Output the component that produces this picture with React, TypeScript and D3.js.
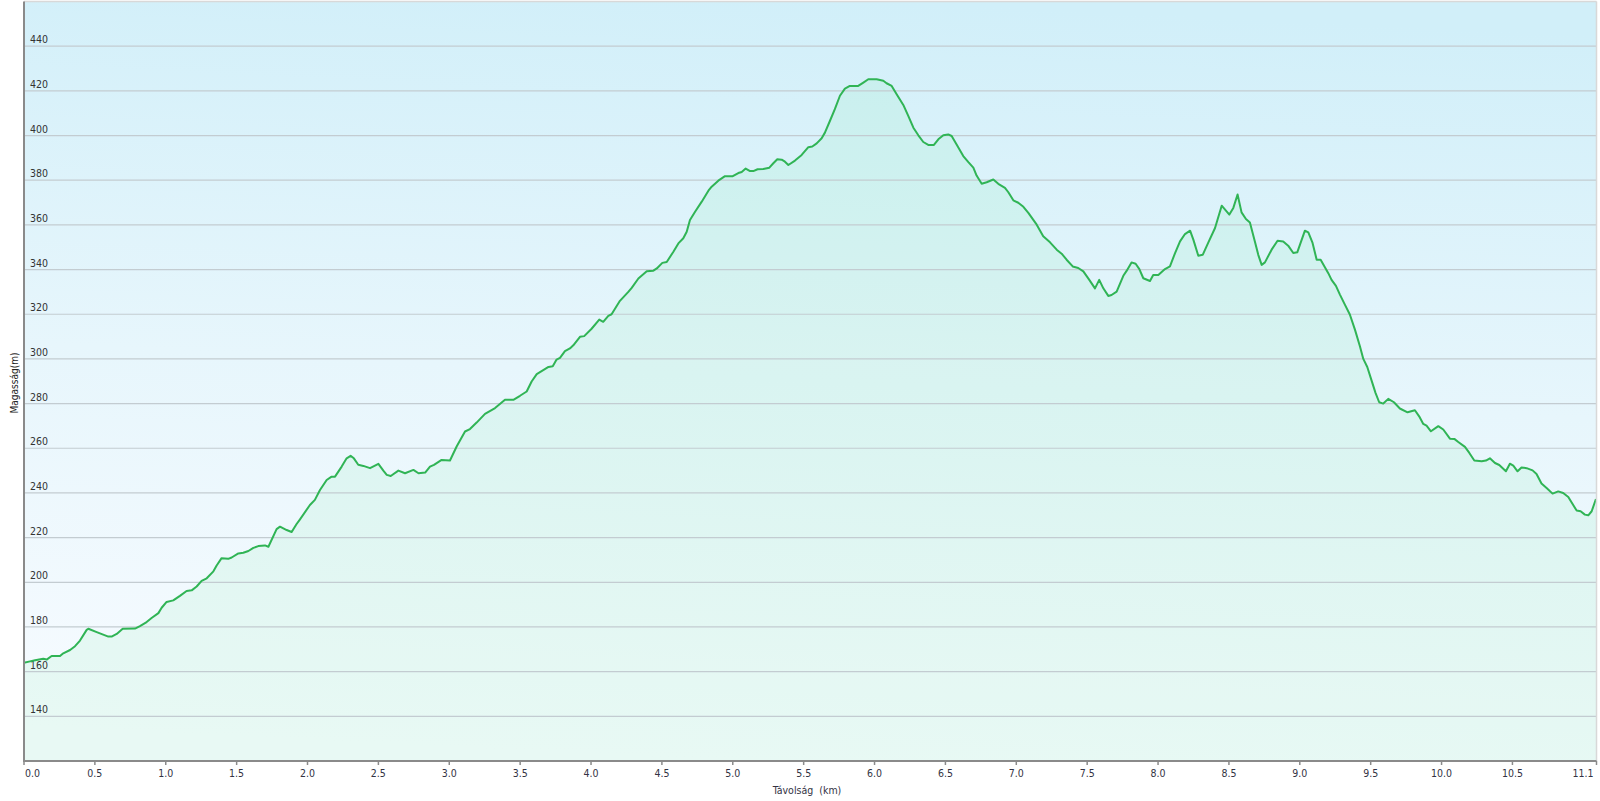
import React from "react";
import * as d3 from "d3";

const distances: number[] = [
  0, 0.042, 0.078, 0.136, 0.16, 0.195, 0.254, 0.277, 0.325, 0.36, 0.395, 0.442, 0.454, 0.513, 0.595, 0.618, 0.654, 0.696, 0.783, 0.818,
  0.865, 0.9, 0.948, 0.971, 1.006, 1.053, 1.1, 1.147, 1.183, 1.218, 1.253, 1.289, 1.336, 1.359, 1.394, 1.441, 1.465, 1.512, 1.547, 1.583,
  1.618, 1.653, 1.7, 1.724, 1.782, 1.806, 1.853, 1.888, 1.923, 1.947, 2.017, 2.052, 2.088, 2.135, 2.17, 2.194, 2.241, 2.276, 2.304, 2.327,
  2.358, 2.394, 2.441, 2.5, 2.535, 2.559, 2.587, 2.641, 2.688, 2.747, 2.783, 2.83, 2.864, 2.892, 2.946, 3.005, 3.052, 3.111, 3.146, 3.193,
  3.252, 3.323, 3.393, 3.452, 3.499, 3.546, 3.581, 3.617, 3.7, 3.73, 3.757, 3.781, 3.816, 3.851, 3.875, 3.922, 3.952, 4.004, 4.058, 4.086,
  4.122, 4.145, 4.204, 4.263, 4.287, 4.334, 4.393, 4.44, 4.464, 4.503, 4.534, 4.581, 4.616, 4.651, 4.675, 4.698, 4.734, 4.781, 4.828, 4.851,
  4.898, 4.945, 5.0, 5.039, 5.063, 5.091, 5.122, 5.145, 5.175, 5.215, 5.258, 5.286, 5.314, 5.345, 5.368, 5.392, 5.439, 5.486, 5.533, 5.561,
  5.592, 5.627, 5.65, 5.685, 5.72, 5.756, 5.791, 5.826, 5.885, 5.921, 5.956, 6.015, 6.062, 6.085, 6.121, 6.156, 6.203, 6.238, 6.274, 6.309,
  6.344, 6.379, 6.419, 6.45, 6.485, 6.52, 6.544, 6.579, 6.626, 6.662, 6.697, 6.72, 6.756, 6.791, 6.838, 6.873, 6.92, 6.944, 6.979, 7.014,
  7.05, 7.085, 7.144, 7.19, 7.238, 7.285, 7.32, 7.355, 7.398, 7.437, 7.473, 7.515, 7.555, 7.585, 7.614, 7.649, 7.672, 7.708, 7.755, 7.778,
  7.813, 7.842, 7.868, 7.896, 7.943, 7.966, 8.002, 8.049, 8.084, 8.12, 8.155, 8.19, 8.226, 8.249, 8.284, 8.315, 8.355, 8.402, 8.449, 8.503,
  8.531, 8.561, 8.589, 8.62, 8.648, 8.683, 8.707, 8.731, 8.754, 8.801, 8.843, 8.883, 8.918, 8.954, 8.982, 9.036, 9.06, 9.09, 9.119, 9.147,
  9.201, 9.224, 9.255, 9.283, 9.318, 9.353, 9.389, 9.424, 9.448, 9.476, 9.506, 9.534, 9.56, 9.589, 9.624, 9.664, 9.706, 9.76, 9.812, 9.842,
  9.871, 9.894, 9.925, 9.977, 10.012, 10.059, 10.09, 10.118, 10.165, 10.196, 10.231, 10.283, 10.313, 10.341, 10.377, 10.407, 10.454, 10.482, 10.506, 10.536,
  10.564, 10.6, 10.642, 10.67, 10.705, 10.741, 10.783, 10.823, 10.858, 10.894, 10.953, 10.981, 11.011, 11.035, 11.059, 11.089,
];

const elevations: number[] = [
  164, 164.6, 165.1, 165.8, 165.4, 167, 167, 168.2, 169.7, 171.4, 173.9, 178.7, 179.2, 177.7, 175.7, 175.7, 176.9, 179.2, 179.3, 180.4,
  182.2, 184, 186.2, 188.6, 191.2, 191.9, 193.9, 196.1, 196.4, 198.1, 200.6, 201.8, 204.9, 207.5, 210.8, 210.5, 211.1, 212.9, 213.2, 214,
  215.4, 216.2, 216.5, 215.9, 223.8, 224.9, 223.4, 222.5, 226.1, 228.2, 234.6, 236.9, 241.3, 245.8, 247.3, 247.3, 251.8, 255.5, 256.6, 255.5,
  252.6, 252.1, 251.1, 253, 250, 248.1, 247.6, 250, 248.8, 250.3, 248.8, 249.1, 251.8, 252.6, 254.8, 254.5, 260.8, 267.5, 268.6, 271.5,
  275.4, 278, 281.7, 281.7, 283.5, 285.4, 289.9, 293.2, 296.4, 296.7, 299.7, 300.5, 303.5, 304.7, 306.1, 309.9, 310.2, 313.5, 317.6, 316.6,
  319.3, 320, 326, 330, 331.8, 336, 339.2, 339.5, 340.5, 343, 343.4, 348, 351.7, 354, 356.9, 362.2, 365.9, 370.4, 375.3, 377.1,
  379.8, 381.8, 381.8, 383.2, 383.7, 385.2, 384.1, 384.1, 384.9, 385, 385.6, 387.6, 389.4, 389.2, 388.3, 386.8, 388.8, 391.3, 394.8, 395.1,
  396.5, 398.8, 401.3, 406.5, 411.8, 417.8, 421, 422.2, 422.2, 423.7, 425.2, 425.2, 424.5, 423.4, 422.2, 418.5, 413.7, 408.8, 403.5, 400.1,
  397.1, 395.8, 395.8, 398.3, 400.1, 400.5, 399.8, 396, 390.8, 388.1, 385.6, 382.1, 378.4, 379.1, 380.3, 378.4, 376.6, 374.6, 371, 369.9,
  368.1, 365.4, 360.1, 354.9, 352.2, 348.9, 347.1, 344.4, 341.4, 340.7, 339.2, 335.4, 331.6, 335.4, 331.6, 328.2, 328.6, 330.1, 337.2, 339.4,
  343.2, 342.6, 340.2, 336.1, 334.9, 337.6, 337.6, 340.2, 341.4, 347.4, 352.6, 355.9, 357.4, 353.4, 346.2, 346.6, 352.2, 358.6, 368.6, 364.6,
  367.6, 373.6, 365.6, 362.6, 361.1, 352.6, 346.6, 342.1, 343.2, 348.9, 352.9, 352.6, 350.7, 347.4, 347.7, 357.4, 356.6, 351.9, 344.4, 344.4,
  338.4, 335.4, 332.7, 328.8, 324.3, 319.9, 313.1, 305.7, 300, 296.4, 290.4, 284.8, 280.6, 280, 282.1, 280.6, 277.8, 276.1, 277, 274.3,
  270.9, 270.1, 267.6, 269.9, 268.4, 264.3, 264.2, 262.8, 260.6, 257.9, 254.5, 254.2, 254.5, 255.5, 253.4, 252.5, 249.7, 253.1, 252.2, 249.7,
  251.4, 251.1, 250.1, 248.5, 244.2, 242.2, 239.7, 240.7, 240, 238.2, 232.1, 231.8, 230.3, 230, 231.8, 237.3,
];

const yTicks: number[] = [140, 160, 180, 200, 220, 240, 260, 280, 300, 320, 340, 360, 380, 400, 420, 440];
const xTicks: number[] = [0, 0.5, 1, 1.5, 2, 2.5, 3, 3.5, 4, 4.5, 5, 5.5, 6, 6.5, 7, 7.5, 8, 8.5, 9, 9.5, 10, 10.5];
const xMax = 11.093;
const xMaxLabel = "11.1";
const yTitle = "Magasság(m)";
const xTitle = "Távolság  (km)";

const W = 1600;
const H = 801;
const L = 24;
const R = 1596.5;
const T = 1.5;
const B = 761;

const FONT = "'DejaVu Sans Condensed', 'DejaVu Sans', Verdana, sans-serif";

export default function App() {
  const x = d3.scaleLinear().domain([0, xMax]).range([L, R]);
  const y = d3.scaleLinear().domain([120, 460]).range([B, T]);
  const pts: [number, number][] = distances.map((d, i) => [d, elevations[i]]);
  const line = d3
    .line<[number, number]>()
    .x((d) => x(d[0]))
    .y((d) => y(d[1]))
    .curve(d3.curveLinear);
  const area = d3
    .area<[number, number]>()
    .x((d) => x(d[0]))
    .y0(B)
    .y1((d) => y(d[1]))
    .curve(d3.curveLinear);

  return (
    <svg
      width={W}
      height={H}
      style={{ position: "absolute", left: 0, top: 0, background: "#fff" }}
    >
      <defs>
        <linearGradient id="bg" x1="0.55" y1="0" x2="0.45" y2="1">
          <stop offset="0" stopColor="#d1eff9" />
          <stop offset="0.5" stopColor="#e7f6fc" />
          <stop offset="1" stopColor="#f7fbff" />
        </linearGradient>
      </defs>
      <rect x={L} y={T} width={R - L} height={B - T} fill="url(#bg)" />
      <path d={area(pts) || ""} fill="rgba(60,230,110,0.08)" />
      {yTicks.map((t) => (
        <line key={t} x1={L} x2={R} y1={y(t)} y2={y(t)} stroke="#c3ccd1" strokeWidth={1.2} />
      ))}
      {yTicks.map((t) => (
        <text key={"l" + t} x={30} y={y(t) - 3} fontSize={10.5} fontFamily={FONT} fill="#333">
          {t}
        </text>
      ))}
      <path d={line(pts) || ""} fill="none" stroke="#30b455" strokeWidth={2} strokeLinejoin="round" />
      <line x1={L} x2={R} y1={T} y2={T} stroke="#d8d8d8" strokeWidth={1.5} />
      <line x1={R} x2={R} y1={T} y2={B} stroke="#d8d8d8" strokeWidth={1.5} />
      <line x1={L} x2={L} y1={T} y2={B + 1} stroke="#8a8a8a" strokeWidth={2} />
      <line x1={L} x2={R} y1={B} y2={B} stroke="#8a8a8a" strokeWidth={2} />
      {xTicks.map((t) => (
        <g key={"x" + t}>
          <line x1={x(t)} x2={x(t)} y1={B} y2={B + 4} stroke="#8a8a8a" strokeWidth={1.5} />
          <text
            x={t === 0 ? x(t) + 1 : x(t)}
            y={777}
            fontSize={10.5}
            fontFamily={FONT}
            fill="#333344"
            textAnchor={t === 0 ? "start" : "middle"}
          >
            {t.toFixed(1)}
          </text>
        </g>
      ))}
      <line x1={x(xMax)} x2={x(xMax)} y1={B} y2={B + 4} stroke="#8a8a8a" strokeWidth={1.5} />
      <text x={x(xMax) - 3} y={777} fontSize={10.5} fontFamily={FONT} fill="#333344" textAnchor="end">
        {xMaxLabel}
      </text>
      <text
        x={807}
        y={794}
        fontSize={10.5}
        fontFamily={FONT}
        fill="#333344"
        textAnchor="middle"
        style={{ whiteSpace: "pre" }}
      >
        {xTitle}
      </text>
      <text
        transform={`translate(18,383) rotate(-90)`}
        fontSize={10}
        fontFamily={FONT}
        fill="#222"
        textAnchor="middle"
      >
        {yTitle}
      </text>
    </svg>
  );
}
